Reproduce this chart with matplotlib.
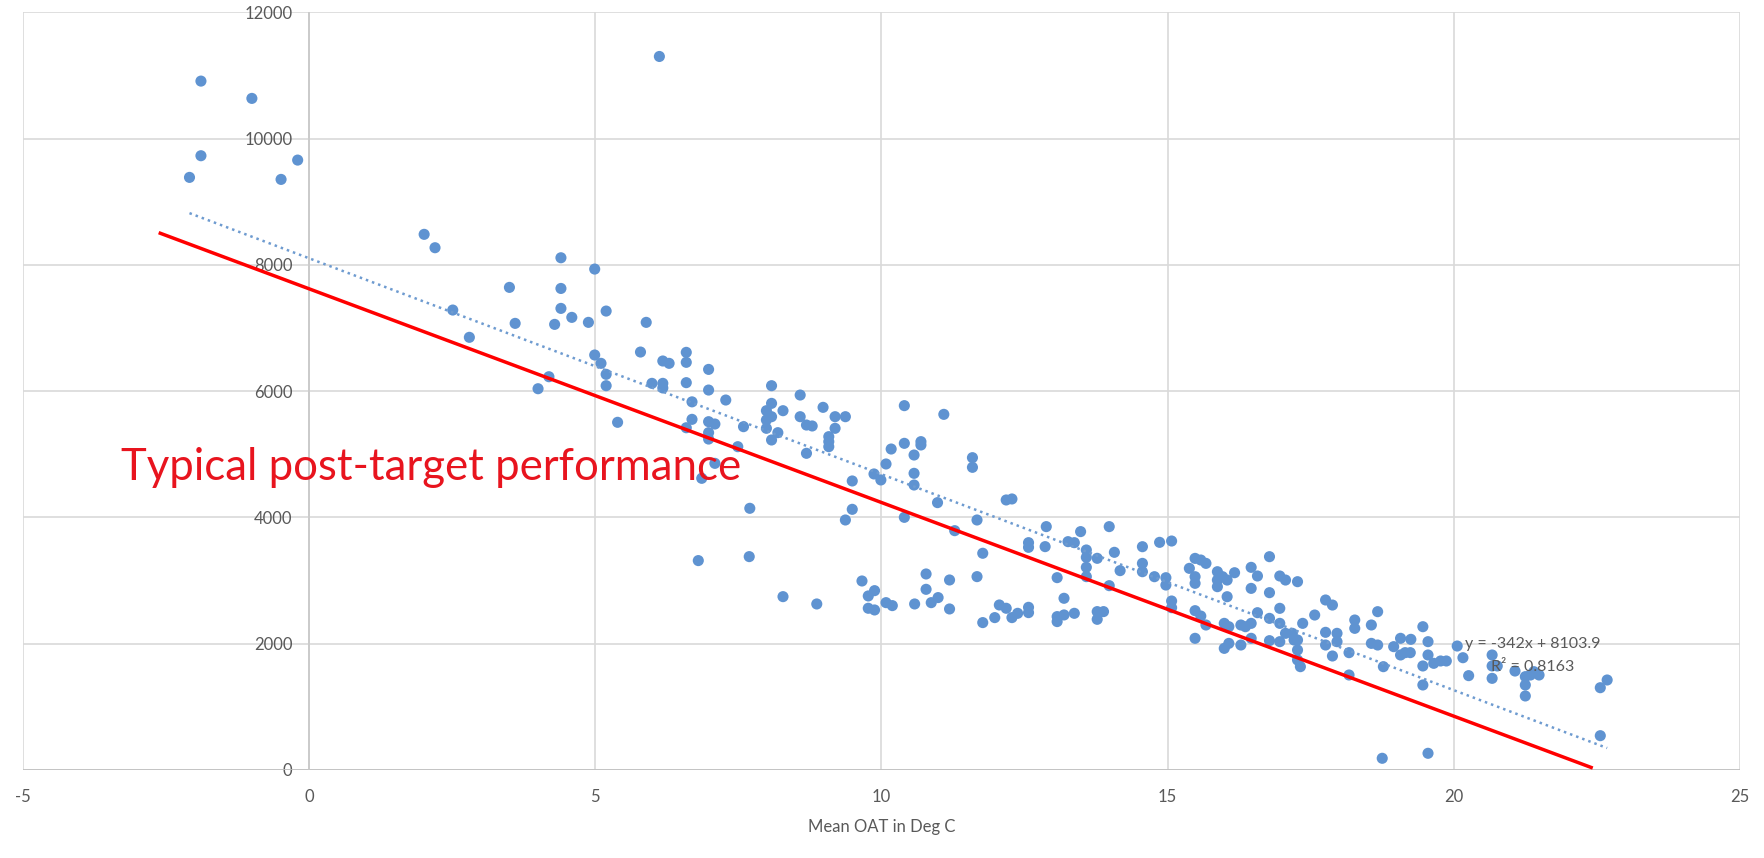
import matplotlib
matplotlib.use("Agg")
import matplotlib.pyplot as plt
import numpy as np

# ---- data ----
oat = [
    -2.09, -1.89, -1.89, -1.00, -0.49, -0.20,
    2.01, 2.20, 2.51, 2.80, 3.50, 3.60, 4.00, 4.19, 4.29, 4.40, 4.40, 4.40, 4.59, 4.88,
    4.99, 4.99, 5.10, 5.19, 5.19, 5.19, 5.39, 5.79, 5.89, 5.99, 6.18, 6.18, 6.18, 6.29,
    6.59, 6.59, 6.59, 6.69, 6.69, 6.59, 6.98, 6.98, 6.98, 7.09, 6.98, 6.98, 7.28, 7.59,
    7.49, 7.09, 6.86, 7.70, 6.12, 6.80,
    8.08, 8.58, 8.08, 7.99, 8.28, 8.08, 7.99, 8.98, 8.58, 8.69, 8.79, 9.19, 9.37, 9.19,
    9.08, 9.08, 9.08, 7.99, 8.19, 8.08, 8.69, 9.49, 9.49, 9.37, 7.69, 8.28, 8.87, 9.66,
    9.88, 9.77, 9.77, 9.88, 10.08, 10.19, 10.58, 10.78, 10.78, 10.87, 10.99, 11.19, 11.19,
    11.77, 11.98, 12.06, 12.18, 12.28, 12.38, 12.57, 12.57, 11.67, 11.77, 11.67, 11.28,
    10.98, 10.40, 10.40, 11.09, 10.17, 10.40, 10.69, 10.69, 10.57, 10.08, 10.57, 10.57,
    9.87, 9.99, 11.59, 11.59, 12.18, 12.28, 12.88, 12.57, 12.57, 12.86, 13.07, 13.19,
    13.07, 13.07, 13.19, 13.37, 13.26, 13.37, 13.48, 13.58, 13.58, 13.58, 13.58, 13.77,
    13.98, 14.07, 14.17, 13.98, 13.77, 13.77, 13.88,
    14.56, 14.56, 14.56, 14.77, 14.86, 15.07, 14.97, 14.97, 15.07, 15.07, 15.38, 15.48,
    15.58, 15.67, 15.48, 15.48, 15.48, 15.58, 15.67, 15.48, 15.87, 15.87, 15.96, 15.87,
    16.04, 16.04, 16.17, 15.99, 16.07, 15.99, 16.07, 16.28, 16.28, 16.36, 16.46, 16.46,
    16.57, 16.46, 16.46, 16.57, 16.78, 16.78, 16.78, 16.78, 16.96, 17.06, 17.27, 16.96,
    16.96, 16.96, 17.06, 17.18, 17.27, 17.27, 17.27, 17.32, 17.21, 17.36, 17.57, 17.76,
    17.88, 17.76, 17.76, 17.88, 17.96, 17.96, 18.17, 18.17, 18.27, 18.27, 18.56, 18.67,
    18.56, 18.67, 18.77, 18.75, 18.95, 19.07, 19.07, 19.15, 19.24, 19.25, 19.46, 19.46,
    19.46, 19.55, 19.55, 19.65, 19.77, 19.87, 19.55, 20.06, 20.16, 20.26,
    20.67, 20.67, 20.76, 20.67, 21.07, 21.25, 21.25, 21.25, 21.34, 21.40, 21.49, 22.56,
    22.68, 22.56,
]
energy = [
    9385, 10910, 9728, 10636, 9353, 9659,
    8483, 8271, 7284, 6852, 7643, 7073, 6038, 6228, 7057, 8112, 7626, 7310, 7168, 7089,
    7933, 6572, 6440, 7268, 6266, 6086, 5506, 6619, 7089, 6123, 6477, 6123, 6050, 6440,
    6614, 6456, 6134, 5830, 5553, 5420, 6344, 6017, 5516, 5479, 5342, 5241, 5859, 5437,
    5120, 4856, 4619, 4144, 11300, 3316,
    6086, 5938, 5806, 5690, 5690, 5595, 5543, 5743, 5595, 5463, 5448, 5595, 5595, 5411,
    5279, 5120, 5200, 5411, 5342, 5226, 5015, 4577, 4128, 3959, 3379, 2745, 2629, 2993,
    2840, 2756, 2561, 2534, 2650, 2603, 2629, 3104, 2861, 2650, 2730, 3009, 2550,
    2334, 2413, 2613, 2561, 2413, 2481, 2576, 2492, 3062, 3432, 3959, 3790,
    4234, 4001, 5770, 5632, 5083, 5173, 5200, 5147, 4988, 4846, 4698, 4513,
    4688, 4593, 4946, 4793, 4276, 4292, 3854, 3600, 3526, 3537, 3046, 2719,
    2429, 2350, 2455, 2481, 3616, 3600, 3775, 3484, 3368, 3210, 3062, 3352,
    3854, 3447, 3157, 2919, 2508, 2386, 2508,
    3536, 3272, 3140, 3061, 3605, 3626, 3045, 2929, 2676, 2570, 3193, 3351,
    3325, 3272, 3061, 2956, 2523, 2438, 2296, 2085, 3140, 3008, 3061, 2903,
    3008, 2744, 3124, 2322, 2269, 1926, 2005, 1979, 2296, 2269, 2322, 3209,
    3072, 2876, 2085, 2491, 3378, 2808, 2401, 2048, 3072, 3008, 2982, 2560,
    2322, 2032, 2164, 2164, 2058, 1900, 1742, 1636, 2058, 2322, 2454, 2692,
    2612, 2180, 1979, 1805, 2164, 2032, 1858, 1504, 2375, 2243, 2296, 2507,
    2005, 1979, 1636, 185, 1953, 2085, 1821, 1858, 1858, 2069, 2269, 1647,
    1346, 2032, 1821, 1689, 1726, 1726, 264, 1963, 1778, 1494,
    1821, 1647, 1647, 1451, 1567, 1478, 1346, 1172, 1504, 1557, 1504, 1303,
    1425, 543,
]
trend_slope = -342
trend_intercept = 8103.9
trend_label = "y = -342x + 8103.9"
r2_label = "R\u00b2 = 0.8163"
target_x = [-2.6, 22.4]
target_y = [8500, 40]
target_label = "Typical post-target performance"
x_ticks = [-5, 0, 5, 10, 15, 20, 25]
y_ticks = [0, 2000, 4000, 6000, 8000, 10000, 12000]
x_title = "Mean OAT in Deg C"

# ---- figure ----
plt.rcParams['font.family'] = ['Lato', 'DejaVu Sans']
fig = plt.figure(figsize=(17.65, 8.58), dpi=100)
ax = fig.add_axes([0.0130, 0.1026, 0.9728, 0.8831])
ax.set_xlim(-5, 25)
ax.set_ylim(0, 12000)

grid_c = '#D9D9D9'
for s in ax.spines.values():
    s.set_visible(False)
ax.spines['left'].set_position(('data', 0))
ax.set_xticks(x_ticks)
ax.set_yticks(y_ticks)
ax.set_xticklabels([str(t) for t in x_ticks])
ax.set_yticklabels([str(t) for t in y_ticks])
ax.tick_params(axis='both', length=0, colors='#595959', labelsize=12)
ax.tick_params(axis='x', pad=14)
ax.tick_params(axis='y', pad=12)
ax.grid(True, color=grid_c, linewidth=1.2, zorder=0)
ax.axhline(0, color='#BFBFBF', linewidth=1.2, zorder=1)
ax.axvline(0, color='#C8C8C8', linewidth=1.2, zorder=1)
ax.set_axisbelow(True)

ax.scatter(oat, energy, s=64, color='#5F93D1', edgecolors='none', zorder=3)

xs = np.array([min(oat), max(oat)])
ax.plot(xs, trend_intercept + trend_slope * xs, linestyle=(0, (1, 1.6)),
        color='#6E9BD0', linewidth=1.8, zorder=4)

ax.plot(target_x, target_y, color='#FF0000', linewidth=2.5, zorder=5)

ax.text(20.2, 2000, trend_label, fontsize=11.5, color='#595959',
        ha='left', va='center', zorder=6)
ax.text(20.65, 1630, r2_label, fontsize=11.5, color='#595959',
        ha='left', va='center', zorder=6)

ax.text(-3.28, 4600, target_label, fontsize=31.5, color='#E8141E',
        ha='left', va='baseline', zorder=6)

ax.set_xlabel(x_title, fontsize=12, color='#595959', labelpad=10)

fig.savefig('out.png', dpi=100)
